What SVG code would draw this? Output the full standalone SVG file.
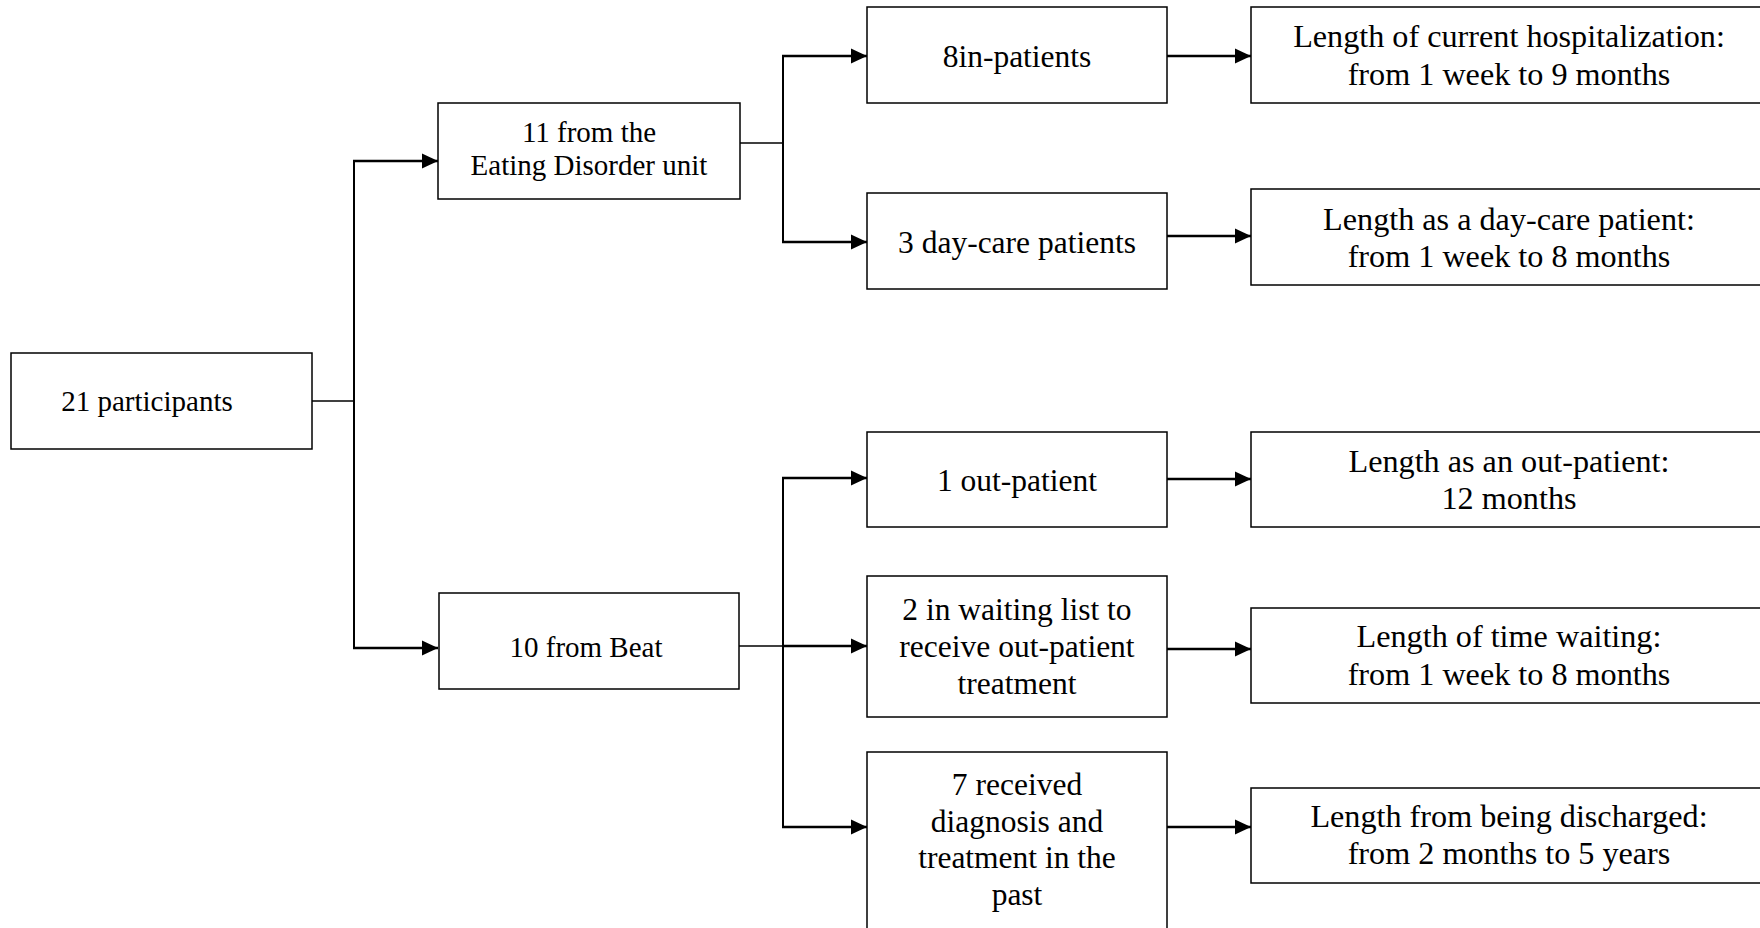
<svg xmlns="http://www.w3.org/2000/svg" width="1760" height="928" viewBox="0 0 1760 928">
<style>
.box{fill:#fff;stroke:#000;stroke-width:1.5}
.t{font-family:"Liberation Serif","Times New Roman",serif;fill:#000;text-anchor:middle}
.l{font-size:29px}
.m{font-size:31.5px}
.r{font-size:32.2px}
.thin{stroke:#000;stroke-width:1.5;fill:none}
.vert{stroke:#000;stroke-width:2;fill:none}
.arr{stroke:#000;stroke-width:2.5;fill:none;marker-end:url(#ah)}
</style>
<defs>
<marker id="ah" markerUnits="userSpaceOnUse" markerWidth="16" markerHeight="16" refX="16" refY="8" orient="auto">
<path d="M0,0.5 L16,8 L0,15.5 z" fill="#000"/>
</marker>
</defs>
<rect width="1760" height="928" fill="#fff"/>
<g id="connectors">
<line class="thin" x1="312" y1="401" x2="354" y2="401"/>
<line class="vert" x1="354" y1="160" x2="354" y2="649"/>
<line class="arr" x1="353" y1="161" x2="438" y2="161"/>
<line class="arr" x1="353" y1="648" x2="438" y2="648"/>
<line class="thin" x1="740" y1="143" x2="783" y2="143"/>
<line class="vert" x1="783" y1="55" x2="783" y2="243"/>
<line class="arr" x1="782" y1="56" x2="867" y2="56"/>
<line class="arr" x1="782" y1="242" x2="867" y2="242"/>
<line class="arr" x1="1167" y1="56" x2="1251" y2="56"/>
<line class="arr" x1="1167" y1="236" x2="1251" y2="236"/>
<line class="thin" x1="739" y1="646" x2="783" y2="646"/>
<line class="vert" x1="783" y1="477" x2="783" y2="828"/>
<line class="arr" x1="782" y1="478" x2="867" y2="478"/>
<line class="arr" x1="782" y1="646" x2="867" y2="646"/>
<line class="arr" x1="782" y1="827" x2="867" y2="827"/>
<line class="arr" x1="1167" y1="479" x2="1251" y2="479"/>
<line class="arr" x1="1167" y1="649" x2="1251" y2="649"/>
<line class="arr" x1="1167" y1="827" x2="1251" y2="827"/>
</g>
<g id="n-participants">
<rect class="box" x="11" y="353" width="301" height="96"/>
<text class="t l" x="147" y="411">21 participants</text>
</g>
<g id="n-ed-unit">
<rect class="box" x="438" y="103" width="302" height="96"/>
<text class="t l" x="589" y="142">11 from the</text>
<text class="t l" x="589" y="175">Eating Disorder unit</text>
</g>
<g id="n-beat">
<rect class="box" x="439" y="593" width="300" height="96"/>
<text class="t l" x="586" y="657">10 from Beat</text>
</g>
<g id="n-inpatients">
<rect class="box" x="867" y="7" width="300" height="96"/>
<text class="t m" x="1017" y="67">8in-patients</text>
</g>
<g id="n-daycare">
<rect class="box" x="867" y="193" width="300" height="96"/>
<text class="t m" x="1017" y="253">3 day-care patients</text>
</g>
<g id="n-outpatient">
<rect class="box" x="867" y="432" width="300" height="95"/>
<text class="t m" x="1017" y="491">1 out-patient</text>
</g>
<g id="n-waiting">
<rect class="box" x="867" y="576" width="300" height="141"/>
<text class="t m" x="1017" y="620">2 in waiting list to</text>
<text class="t m" x="1017" y="657">receive out-patient</text>
<text class="t m" x="1017" y="694">treatment</text>
</g>
<g id="n-past">
<rect class="box" x="867" y="752" width="300" height="190"/>
<text class="t m" x="1017" y="795">7 received</text>
<text class="t m" x="1017" y="832">diagnosis and</text>
<text class="t m" x="1017" y="868">treatment in the</text>
<text class="t m" x="1017" y="905">past</text>
</g>
<g id="n-len-hosp">
<rect class="box" x="1251" y="7" width="530" height="96"/>
<text class="t r" x="1509" y="47">Length of current hospitalization:</text>
<text class="t r" x="1509" y="85">from 1 week to 9 months</text>
</g>
<g id="n-len-daycare">
<rect class="box" x="1251" y="189" width="530" height="96"/>
<text class="t r" x="1509" y="230">Length as a day-care patient:</text>
<text class="t r" x="1509" y="267">from 1 week to 8 months</text>
</g>
<g id="n-len-out">
<rect class="box" x="1251" y="432" width="530" height="95"/>
<text class="t r" x="1509" y="472">Length as an out-patient:</text>
<text class="t r" x="1509" y="509">12 months</text>
</g>
<g id="n-len-wait">
<rect class="box" x="1251" y="608" width="530" height="95"/>
<text class="t r" x="1509" y="647">Length of time waiting:</text>
<text class="t r" x="1509" y="685">from 1 week to 8 months</text>
</g>
<g id="n-len-disch">
<rect class="box" x="1251" y="788" width="530" height="95"/>
<text class="t r" x="1509" y="827">Length from being discharged:</text>
<text class="t r" x="1509" y="864">from 2 months to 5 years</text>
</g>
</svg>
